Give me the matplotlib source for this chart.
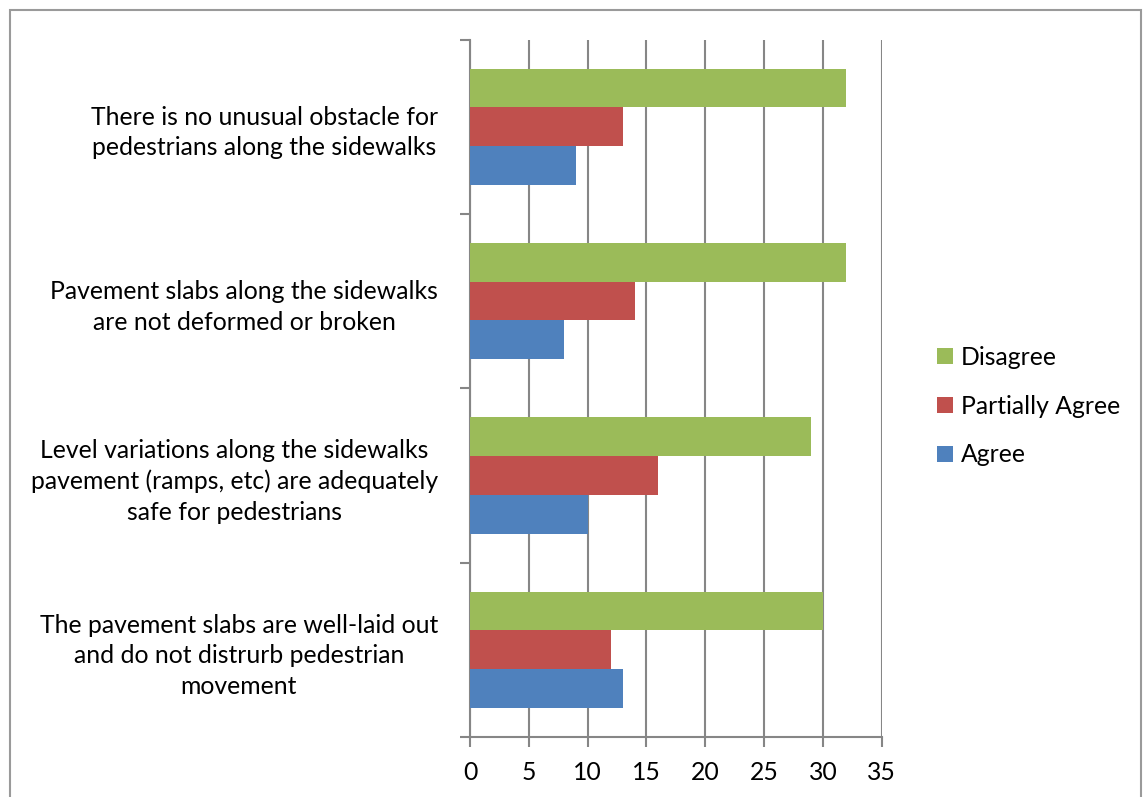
import matplotlib
matplotlib.use("Agg")
import matplotlib.pyplot as plt
from matplotlib.patches import Rectangle
import numpy as np

categories = [
    "The pavement slabs are well-laid out\nand do not distrurb pedestrian\nmovement",
    "Level variations along the sidewalks\npavement (ramps, etc) are adequately\nsafe for pedestrians",
    "Pavement slabs along the sidewalks\nare not deformed or broken",
    "There is no unusual obstacle for\npedestrians along the sidewalks",
]
series_names = ["Agree", "Partially Agree", "Disagree"]
agree = [13, 10, 8, 9]
partially = [12, 16, 14, 13]
disagree = [30, 29, 32, 32]
colors = ["#4F81BD", "#C0504D", "#9BBB59"]
xticks = [0, 5, 10, 15, 20, 25, 30, 35]

plt.rcParams['font.family'] = ['Lato', 'DejaVu Sans']
FS = 17.8

fig = plt.figure(figsize=(11.43, 7.97), dpi=100)
ax = fig.add_axes([470/1143, 1-737/797, (881.7-470)/1143, (737-39.5)/797])

y = np.arange(len(categories))
h = 2/9
vals = [agree, partially, disagree]
for i, (name, v, c) in enumerate(zip(series_names, vals, colors)):
    ax.barh(y + (i-1)*h, v, height=h, color=c, label=name, zorder=3)

ax.set_xlim(0, 35)
ax.set_ylim(-0.5, len(categories)-0.5)
ax.set_xticks(xticks)
ax.set_xticklabels([str(t) for t in xticks], fontsize=FS)
ax.set_yticks(y)
ax.set_yticklabels(categories, fontsize=FS, multialignment='center', linespacing=1.4)
ax.set_yticks(np.arange(-0.5, len(categories)), minor=True)
ax.tick_params(axis='y', which='major', length=0, pad=23)
ax.tick_params(axis='y', which='minor', length=7, width=1.5, color='#868686', direction='out')
ax.tick_params(axis='x', length=7, width=1.5, color='#868686', direction='out', pad=10)
ax.xaxis.grid(True, color='#868686', linewidth=1.5, zorder=0)
ax.set_axisbelow(True)
for s in ['top', 'right']:
    ax.spines[s].set_visible(False)
for s in ['left', 'bottom']:
    ax.spines[s].set_color('#868686')
    ax.spines[s].set_linewidth(1.5)

handles, labels = ax.get_legend_handles_labels()
leg = fig.legend(handles[::-1], labels[::-1], loc='center left',
                 bbox_to_anchor=(915/1143, 1-406/797), frameon=False,
                 fontsize=FS, handlelength=0.62, handleheight=0.62,
                 handletextpad=0.35, labelspacing=1.05)

fig.patches.append(Rectangle((10/1143, -0.05), (1141-10)/1143, 1.05-10/797,
                             transform=fig.transFigure, fill=False,
                             edgecolor='#9a9a9a', linewidth=1.5))

fig.savefig("out.png", dpi=100)
